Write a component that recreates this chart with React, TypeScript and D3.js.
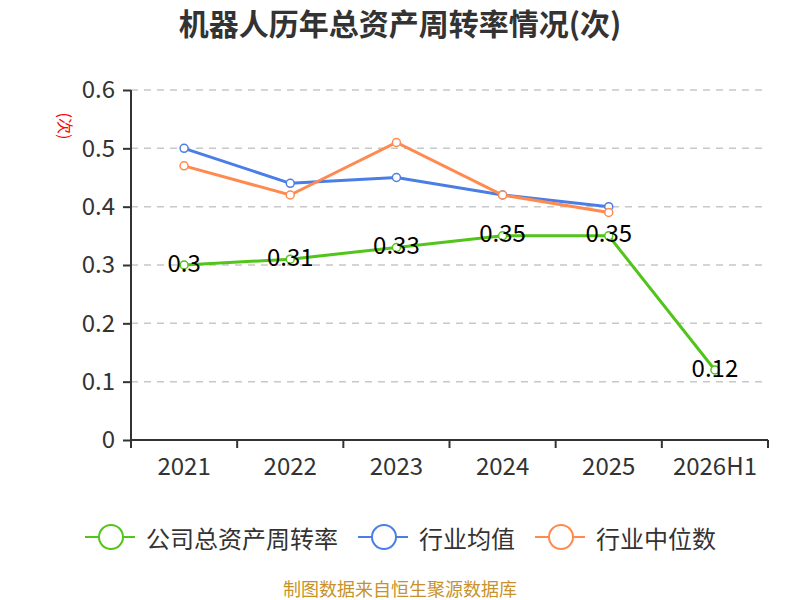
import { useEffect, useRef } from 'react';
import * as d3 from 'd3';

const years = ['2021', '2022', '2023', '2024', '2025', '2026H1'];
const companyTurnover = [0.3, 0.31, 0.33, 0.35, 0.35, 0.12];
const industryMean = [0.5, 0.44, 0.45, 0.42, 0.4];
const industryMedian = [0.47, 0.42, 0.51, 0.42, 0.39];
const yTicks = [0, 0.1, 0.2, 0.3, 0.4, 0.5, 0.6];

const seriesNames = ['公司总资产周转率', '行业均值', '行业中位数'];
const seriesColors = ['#52c41a', '#4a7ee6', '#ff8a4f'];

const FONT = '"Noto Sans CJK SC", "Noto Sans", sans-serif';

export default function App() {
  const svgRef = useRef<SVGSVGElement>(null);

  useEffect(() => {
    if (!svgRef.current) return;
    const svg = d3.select(svgRef.current);
    svg.selectAll('*').remove();

    const margin = { top: 90, right: 32, bottom: 160, left: 131 };
    const width = 800 - margin.left - margin.right;
    const height = 600 - margin.top - margin.bottom;

    svg.attr('width', 800).attr('height', 600).attr('font-family', FONT);

    // Title
    svg.append('text')
      .attr('x', 400)
      .attr('y', 35)
      .attr('text-anchor', 'middle')
      .attr('fill', '#333')
      .attr('font-size', '30px')
      .attr('font-weight', 'bold')
      .text('机器人历年总资产周转率情况(次)');

    const g = svg.append('g').attr('transform', `translate(${margin.left}, ${margin.top})`);

    const xBand = d3.scaleBand<string>().domain(years).range([0, width]);
    const xCenter = (i: number) => (xBand(years[i]) || 0) + xBand.bandwidth() / 2;

    const yScale = d3.scaleLinear().domain([0, 0.6]).range([height, 0]);

    // Grid lines
    g.selectAll('.grid')
      .data(yTicks.filter(t => t > 0))
      .enter()
      .append('line')
      .attr('x1', 0)
      .attr('x2', width)
      .attr('y1', d => yScale(d))
      .attr('y2', d => yScale(d))
      .attr('stroke', '#c8c8c8')
      .attr('stroke-width', 1.5)
      .attr('stroke-dasharray', '7,6');

    // Y axis
    const yAxis = g.append('g')
      .call(d3.axisLeft(yScale).tickValues(yTicks).tickSize(8).tickPadding(8).tickFormat(d => d3.format('')(+d)));
    yAxis.selectAll('line, path').attr('stroke', '#333').attr('stroke-width', 2);
    yAxis.select('.domain').attr('d', `M0,${height}V0`);
    yAxis.selectAll('text').attr('fill', '#333').attr('font-size', '24px').attr('font-family', FONT);

    // Y axis unit label
    svg.append('text')
      .attr('transform', `translate(66, 126) rotate(90)`)
      .attr('text-anchor', 'middle')
      .attr('dominant-baseline', 'central')
      .attr('fill', 'red')
      .attr('font-size', '16px')
      .text('(次)');

    // X axis
    const xAxis = g.append('g')
      .attr('transform', `translate(0, ${height})`)
      .call(d3.axisBottom(xBand).tickSize(0).tickPadding(18));
    xAxis.select('.domain').attr('stroke', '#333').attr('stroke-width', 2).attr('d', `M0,0H${width}`);
    xAxis.selectAll('text').attr('fill', '#333').attr('font-size', '24px').attr('font-family', FONT);
    const boundaries = years.map(y => xBand(y) || 0).concat([width]);
    xAxis.selectAll('.bound')
      .data(boundaries)
      .enter()
      .append('line')
      .attr('x1', d => d)
      .attr('x2', d => d)
      .attr('y1', 0)
      .attr('y2', 8)
      .attr('stroke', '#333')
      .attr('stroke-width', 2);

    const seriesList = [companyTurnover, industryMean, industryMedian];
    const drawOrder = [1, 2, 0];

    drawOrder.forEach(si => {
      const values = seriesList[si];
      const line = d3.line<number>()
        .x((_, i) => xCenter(i))
        .y(d => yScale(d));

      g.append('path')
        .datum(values)
        .attr('fill', 'none')
        .attr('stroke', seriesColors[si])
        .attr('stroke-width', 3)
        .attr('d', line);

      g.selectAll(`.pt-${si}`)
        .data(values)
        .enter()
        .append('circle')
        .attr('cx', (_, i) => xCenter(i))
        .attr('cy', d => yScale(d))
        .attr('r', 4)
        .attr('fill', '#fff')
        .attr('stroke', seriesColors[si])
        .attr('stroke-width', 1.5);
    });

    // Value labels for the company series
    g.selectAll('.val')
      .data(companyTurnover)
      .enter()
      .append('text')
      .attr('x', (_, i) => xCenter(i))
      .attr('y', d => yScale(d) - 4)
      .attr('text-anchor', 'middle')
      .attr('dominant-baseline', 'central')
      .attr('fill', '#000')
      .attr('font-size', '24px')
      .text(d => String(d));

    // Legend
    const legendX = [85, 358, 535];
    const legendY = 537;
    seriesNames.forEach((name, i) => {
      const lg = svg.append('g').attr('transform', `translate(${legendX[i]}, ${legendY})`);
      lg.append('line')
        .attr('x1', 0)
        .attr('x2', 50)
        .attr('stroke', seriesColors[i])
        .attr('stroke-width', 2);
      lg.append('circle')
        .attr('cx', 26)
        .attr('r', 12)
        .attr('fill', '#fff')
        .attr('stroke', seriesColors[i])
        .attr('stroke-width', 2);
      lg.append('text')
        .attr('x', 61)
        .attr('dominant-baseline', 'central')
        .attr('fill', '#333')
        .attr('font-size', '24px')
        .text(name);
    });

    // Source footer
    svg.append('text')
      .attr('x', 400)
      .attr('y', 596)
      .attr('text-anchor', 'middle')
      .attr('fill', '#c8922a')
      .attr('font-size', '18px')
      .text('制图数据来自恒生聚源数据库');
  }, []);

  return <svg ref={svgRef} style={{ display: 'block', position: 'absolute', left: 0, top: 0 }} />;
}
